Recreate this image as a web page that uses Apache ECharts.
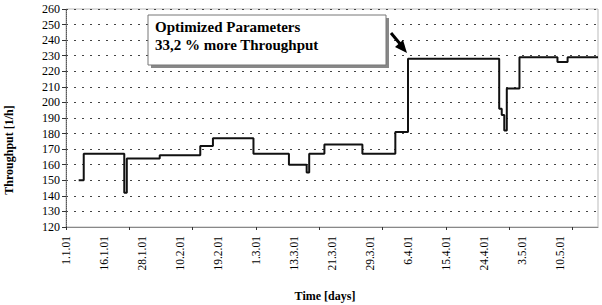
<!DOCTYPE html>
<html>
<head>
<meta charset="utf-8">
<script src="https://cdn.jsdelivr.net/npm/echarts@6/dist/echarts.min.js"></script>
<style>
html,body{margin:0;padding:0;background:#fff;}
#chart{width:602px;height:305px;}
</style>
</head>
<body>
<div id="chart"></div>
<script>
// Date labels shown every 15th measurement point
const tickLabels = ['1.1.01','16.1.01','28.1.01','10.2.01','19.2.01','1.3.01','13.3.01','21.3.01','29.3.01','6.4.01','15.4.01','24.4.01','3.5.01','10.5.01'];
const pointCount = 211;
const labelEvery = 15;
const tickEvery = 25;
// Step changes: measurement index where the level changes, and new throughput level
const changeIndex = [5, 7, 23, 24, 37, 53, 58, 74, 88, 95, 96, 102, 117, 130, 135, 171, 172, 173, 174, 179, 194, 198, 210];
const throughput  = [150, 167, 142, 164, 166, 172, 177, 167, 160, 155, 167, 173, 167, 181, 228, 196, 192, 182, 209, 229, 226, 229, 229];
const yTicks = {min: 120, max: 260, step: 10};

const categories = Array.from({length: pointCount}, (_, i) => i % labelEvery === 0 ? (tickLabels[i / labelEvery] || '') : '');
const seriesData = changeIndex.map((idx, k) => [idx, throughput[k]]);

const serif = 'Liberation Serif, Times New Roman, serif';
const chart = echarts.init(document.getElementById('chart'), null, {renderer: 'svg'});
chart.setOption({
  animation: false,
  backgroundColor: '#fff',
  grid: {left: 66, right: 4, top: 9, bottom: 78, containLabel: false, outerBoundsMode: 'none',
         show: true, borderColor: '#bbb', borderWidth: 1, backgroundColor: '#fff'},
  xAxis: {
    type: 'category',
    data: categories,
    boundaryGap: false,
    axisLine: {lineStyle: {color: '#888', width: 1}},
    axisTick: {show: true, interval: tickEvery - 1, length: 3, lineStyle: {color: '#333'}},
    axisLabel: {interval: labelEvery - 1, rotate: 90, margin: 9, fontFamily: serif, fontSize: 11.5, color: '#000'},
    splitLine: {show: false},
    name: 'Time [days]',
    nameLocation: 'middle',
    nameGap: 63,
    nameTextStyle: {fontFamily: serif, fontSize: 12, fontWeight: 'bold', color: '#000', padding: [0, 14, 0, 0]}
  },
  yAxis: {
    type: 'value',
    min: yTicks.min, max: yTicks.max, interval: yTicks.step,
    axisLine: {show: true, lineStyle: {color: '#555', width: 1, type: [1, 1]}},
    axisTick: {show: true, length: 4, lineStyle: {color: '#333'}},
    axisLabel: {fontFamily: serif, fontSize: 12, color: '#000', margin: 6},
    splitLine: {show: true, lineStyle: {color: '#444', width: 1, type: [2, 6]}},
    name: 'Throughput [1/h]',
    nameLocation: 'middle',
    nameGap: 51,
    nameTextStyle: {fontFamily: serif, fontSize: 12, fontWeight: 'bold', color: '#000', padding: [0, 0, 0, -64]}
  },
  series: [{
    type: 'line',
    step: 'end',
    data: seriesData,
    showSymbol: false,
    lineStyle: {color: '#111', width: 2},
    z: 5
  }],
  graphic: [
    {type: 'rect', shape: {x: 151, y: 18, width: 238, height: 50}, style: {fill: '#888'}, z: 10},
    {type: 'rect', shape: {x: 148, y: 15, width: 238, height: 50}, style: {fill: '#fff', stroke: '#777', lineWidth: 1}, z: 11},
    {type: 'text', left: 155, top: 19, style: {text: 'Optimized Parameters', font: 'bold 15px ' + serif, fill: '#000'}, z: 12},
    {type: 'text', left: 155, top: 37, style: {text: '33,2 % more Throughput', font: 'bold 15px ' + serif, fill: '#000'}, z: 12},
    {type: 'line', shape: {x1: 391, y1: 33, x2: 401, y2: 45}, style: {stroke: '#000', lineWidth: 3}, z: 12},
    {type: 'polygon', shape: {points: [[407, 53], [395, 47], [403, 40]]}, style: {fill: '#000'}, z: 12}
  ]
});
</script>
</body>
</html>
